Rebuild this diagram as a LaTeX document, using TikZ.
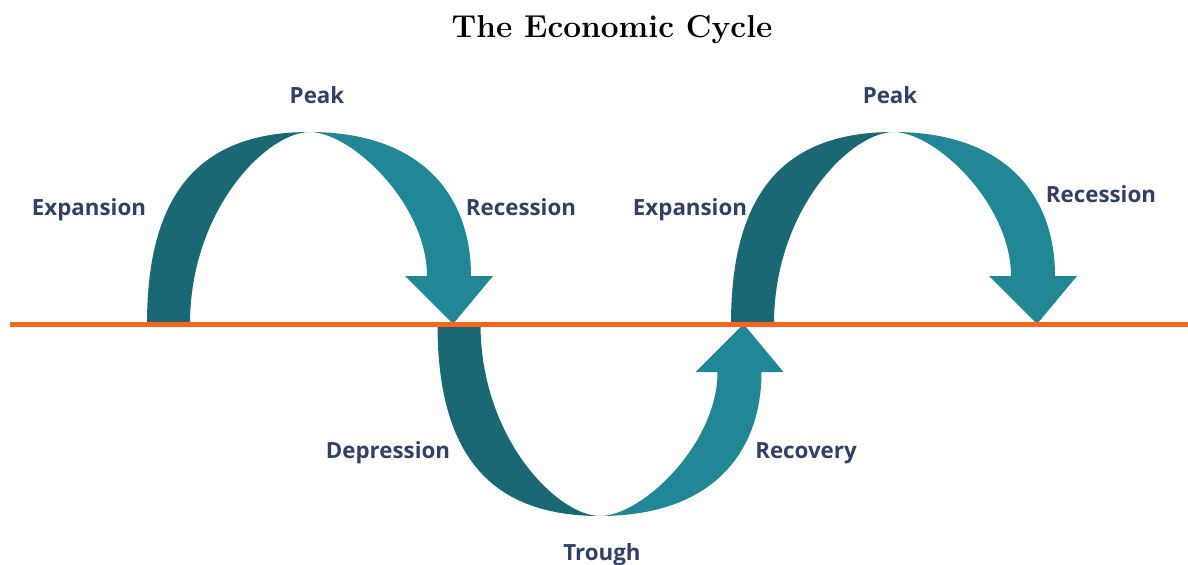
\documentclass[tikz,border=0pt]{standalone}
\usepackage{fontspec}
\usepackage{tikz}
\usetikzlibrary{positioning,calc}

\newfontfamily\labelfont{Open Sans}
\definecolor{darkteal}{RGB}{27,104,117}
\definecolor{lightteal}{RGB}{33,134,149}
\definecolor{lineorange}{RGB}{248,102,28}
\definecolor{labelblue}{RGB}{48,64,102}

\begin{document}
\begin{tikzpicture}[x=0.02cm, y=0.02cm,
    lbl/.style={font=\labelfont\bfseries\fontsize{12.7}{14}\selectfont, text=labelblue, anchor=base, inner sep=0pt}]
    \useasboundingbox (0,-241) rectangle (1188,324);

    \coordinate (L) at (10,0);     % start of the axis
    \coordinate (R) at (1188,0);   % end of the axis

    % the three half waves, the middle one turned upside down
    \foreach \dx/\sy in {309.5/1, 600/-1, 893.5/1} {
        \begin{scope}[shift={(\dx,0)}, yscale=\sy]
            \fill[darkteal] (-162.5,0) .. controls (-162.5,130) and (-110.5,192) .. (0,192)
                .. controls (-42,192) and (-119.5,115) .. (-119.5,0) -- cycle;
            \fill[lightteal] (0,192) .. controls (110.5,192) and (161.5,130) .. (161.5,48)
                -- (183.5,48) -- (143.5,0) -- (95.5,48) -- (117.5,48)
                .. controls (117.5,120) and (42,192) .. (0,192) -- cycle;
        \end{scope}
    }

    \draw[lineorange, line width=0.1cm] (L) -- (R);

    \node[font=\bfseries\fontsize{18}{21}\selectfont, anchor=base] (title) at (612,286) {The Economic Cycle};

    \node[lbl] (peakA) at (317,220.5) {Peak};
    \node[lbl] (expA) at (89,109) {Expansion};
    \node[lbl] (recA) at (521,109) {Recession};
    \node[lbl] (expB) at (690,109) {Expansion};
    \node[lbl] (peakB) at (890,220.5) {Peak};
    \node[lbl] (recB) at (1101,121) {Recession};
    \node[lbl] (dep) at (388,-134) {Depression};
    \node[lbl] (recov) at (806,-134) {Recovery};
    \node[lbl] (trough) at (602,-236) {Trough};

\end{tikzpicture}
\end{document}
